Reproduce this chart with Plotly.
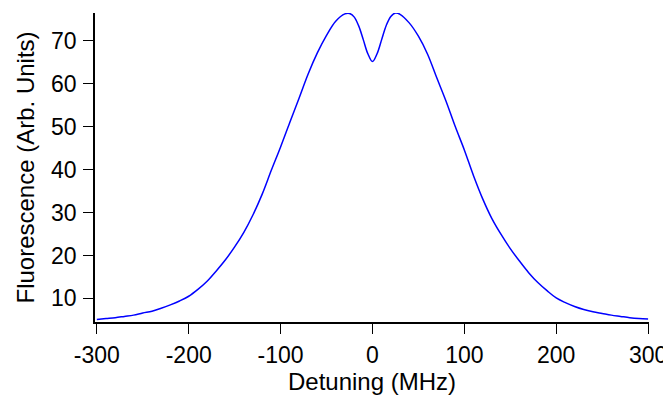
import plotly.graph_objects as go

detuning = [-300, -290, -280, -270, -260, -250, -240, -230, -220, -210, -200, -190,
            -180, -170, -160, -150, -140, -130, -120, -110, -100, -90, -80, -70,
            -60, -50, -40, -30, -25, -20, -15, -10, -5, 0, 5, 10, 15, 20, 25, 30,
            40, 50, 60, 70, 80, 90, 100, 110, 120, 130, 140, 150, 160, 170, 180,
            190, 200, 210, 220, 230, 240, 250, 260, 270, 280, 290, 300]
fluorescence = [5.1, 5.3, 5.5, 5.8, 6.1, 6.6, 7.0, 7.7, 8.5, 9.4, 10.5, 12.1,
                14.0, 16.4, 19.0, 22.0, 25.4, 29.5, 34.3, 39.9, 45.3, 51.0, 56.6, 62.3,
                67.2, 71.3, 74.6, 76.3, 76.4, 75.6, 73.5, 70.3, 67.0, 65.2, 67.0, 70.3,
                73.6, 75.7, 76.5, 76.2, 74.2, 71.1, 66.9, 61.4, 56.0, 50.1, 44.6, 38.6,
                33.2, 28.6, 24.9, 21.6, 18.7, 16.0, 13.7, 11.8, 10.1, 9.0, 8.1, 7.4,
                6.9, 6.5, 6.1, 5.8, 5.5, 5.3, 5.2]

x_ticks = [-300, -200, -100, 0, 100, 200, 300]
x_tick_labels = ["-300", "-200", "-100", "0", "100", "200", "300"]
y_ticks = [10, 20, 30, 40, 50, 60, 70]
y_tick_labels = ["10", "20", "30", "40", "50", "60", "70"]

fig = go.Figure()
fig.add_trace(go.Scatter(x=detuning, y=fluorescence, mode="lines",
                         line=dict(color="#0000ff", width=1.5, shape="spline", smoothing=1.0),
                         showlegend=False))

font = dict(family="Liberation Sans, Arial, sans-serif", size=23, color="black")
fig.update_layout(
    width=663, height=390,
    margin=dict(l=87, r=22, t=5, b=76, autoexpand=False),
    plot_bgcolor="white", paper_bgcolor="white",
    font=font,
    xaxis=dict(range=[-302, 301], tickvals=x_ticks, ticktext=x_tick_labels,
               ticks="outside", ticklen=10, automargin=False, ticklabelstandoff=2,
               tickwidth=1, tickcolor="black", showline=True, linecolor="black",
               linewidth=1.5, showgrid=False, zeroline=False,
               title=dict(text="Detuning (MHz)", standoff=6, font=dict(size=24))),
    yaxis=dict(range=[4.5, 76.5], tickvals=y_ticks, ticktext=y_tick_labels,
               ticks="outside", ticklen=10, automargin=False, ticklabelstandoff=2,
               tickwidth=1, tickcolor="black", showline=True, linecolor="black",
               linewidth=1.5, showgrid=False, zeroline=False,
               title=dict(text="Fluorescence (Arb. Units)", standoff=10, font=dict(size=24))),
)
fig.write_html("out.html")
